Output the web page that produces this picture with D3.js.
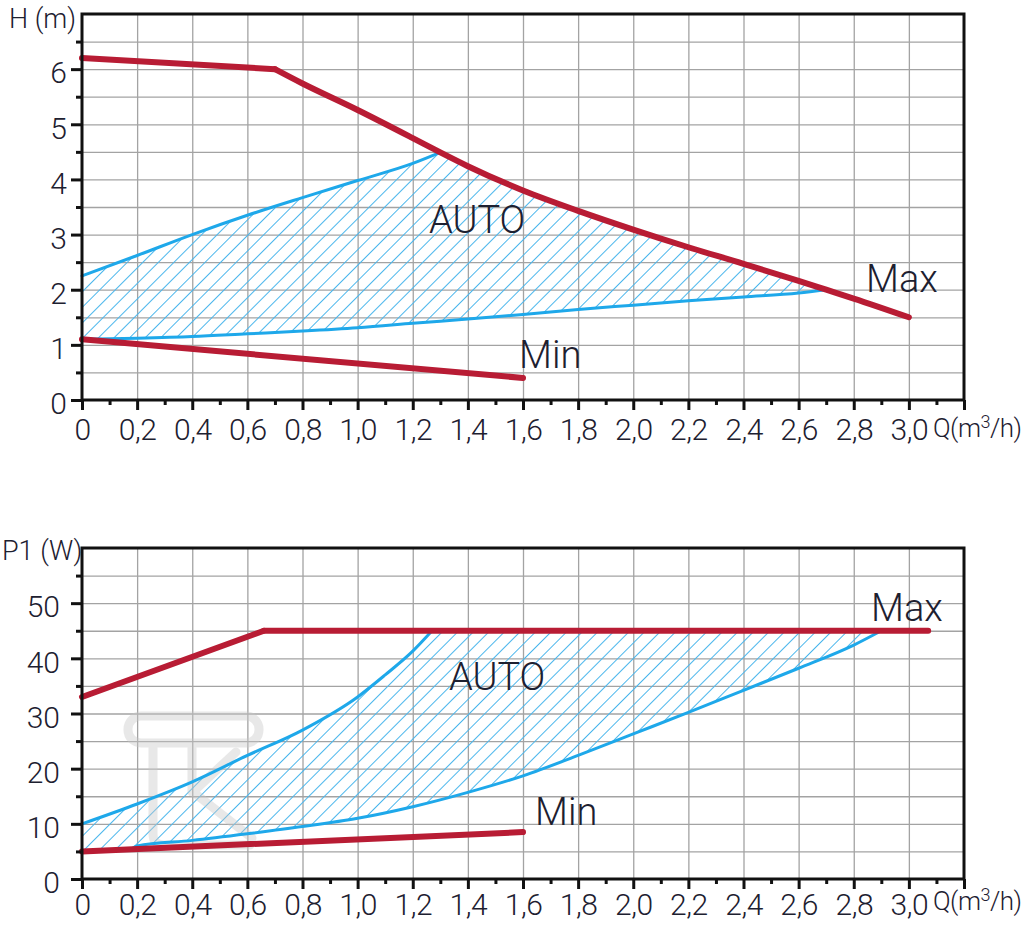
<!DOCTYPE html>
<html>
<head>
<meta charset="utf-8">
<script src="https://cdn.jsdelivr.net/npm/d3@7"></script>
<style>
  body { margin: 0; background: #fff; }
  text { font-family: Roboto, 'Open Sans', sans-serif; fill: #1d2030; }
</style>
</head>
<body>
<script>
// ---- data: pump curve, head H (m) vs flow Q (m3/h)
var hMaxQ = [0, 0.7, 0.8, 1.0, 1.2, 1.3, 1.4, 1.6, 1.8, 2.0, 2.2, 2.4, 2.6, 2.7, 2.8, 3.0];
var hMaxH = [6.2, 6.0, 5.74, 5.26, 4.75, 4.49, 4.24, 3.8, 3.43, 3.09, 2.77, 2.47, 2.16, 2.0, 1.84, 1.5];
var hAutoUpQ = [0, 0.2, 0.4, 0.6, 0.8, 1.0, 1.2, 1.3];
var hAutoUpH = [2.25, 2.62, 3.0, 3.35, 3.67, 3.98, 4.29, 4.49];
var hAutoLoQ = [0, 0.2, 0.4, 0.6, 0.8, 1.0, 1.2, 1.4, 1.6, 1.8, 2.0, 2.2, 2.4, 2.6, 2.7];
var hAutoLoH = [1.1, 1.12, 1.15, 1.2, 1.25, 1.31, 1.39, 1.47, 1.55, 1.64, 1.72, 1.8, 1.87, 1.94, 2.0];
var hMinQ = [0, 1.6];
var hMinH = [1.1, 0.4];

// ---- data: power P1 (W) vs flow Q (m3/h)
var pMaxQ = [0, 0.66, 1.27, 2.9, 3.07];
var pMaxP = [33, 45, 45, 45, 45];
var pAutoUpQ = [0, 0.2, 0.4, 0.6, 0.8, 1.0, 1.1, 1.2, 1.27];
var pAutoUpP = [10, 13.6, 17.6, 22.4, 27.0, 33.0, 37.0, 41.3, 45];
var pAutoLoQ = [0.18, 0.2, 0.4, 0.6, 0.8, 1.0, 1.2, 1.4, 1.6, 1.8, 2.0, 2.2, 2.4, 2.6, 2.8, 2.9];
var pAutoLoP = [5.5, 6.0, 7.0, 8.2, 9.5, 11.0, 13.1, 15.7, 18.7, 22.4, 26.3, 30.2, 34.2, 38.2, 42.4, 45];
var pMinQ = [0, 1.6];
var pMinP = [5, 8.5];

// ---- ticks
var qMajor = [0, 0.2, 0.4, 0.6, 0.8, 1.0, 1.2, 1.4, 1.6, 1.8, 2.0, 2.2, 2.4, 2.6, 2.8, 3.0, 3.2];
var qMinor = [0.1, 0.3, 0.5, 0.7, 0.9, 1.1, 1.3, 1.5, 1.7, 1.9, 2.1, 2.3, 2.5, 2.7, 2.9, 3.1];
var hMajor = [0, 1, 2, 3, 4, 5, 6];
var hMinor = [0.5, 1.5, 2.5, 3.5, 4.5, 5.5, 6.5];
var hGrid = [0.5, 1, 1.5, 2, 2.5, 3, 3.5, 4, 4.5, 5, 5.5, 6, 6.5];
var pMajor = [0, 10, 20, 30, 40, 50];
var pMinor = [5, 15, 25, 35, 45, 55];
var pGrid = [5, 10, 15, 20, 25, 30, 35, 40, 45, 50, 55];

var RED = '#b81c34';
var BLUE = '#1ea8ea';

var svg = d3.select('body').append('svg')
    .attr('width', 1024)
    .attr('height', 928);

var defs = svg.append('defs');
defs.append('pattern')
    .attr('id', 'hatch')
    .attr('patternUnits', 'userSpaceOnUse')
    .attr('width', 11)
    .attr('height', 11)
    .attr('patternTransform', 'rotate(-45)')
    .append('line')
    .attr('x1', 0).attr('y1', 0.5)
    .attr('x2', 11).attr('y2', 0.5)
    .attr('stroke', '#4ab6ec')
    .attr('stroke-width', 1);

var x = d3.scaleLinear().domain([0, 3.2]).range([82, 964]);

function qFmt(d) {
    if (d === 3.2) return '';
    if (d === 0) return '0';
    return d3.format('.1f')(d).replace('.', ',');
}

function pts(qs, vs) {
    return qs.map(function (q, i) { return [q, vs[i]]; });
}

function between(arr, a, b) {
    return arr.filter(function (d) { return d[0] >= a && d[0] <= b; });
}

function drawPanel(o) {
    var y = o.y;
    var g = svg.append('g');
    var top = y.range()[1], bottom = y.range()[0];

    // grid
    g.append('g')
        .attr('transform', 'translate(0,' + bottom + ')')
        .call(d3.axisBottom(x).tickValues(qMajor.slice(1, -1)).tickSize(-(bottom - top)).tickFormat(''))
        .call(function (s) { s.select('.domain').remove(); })
        .selectAll('line').attr('stroke', '#a3a3a3').attr('stroke-width', 1.3);
    g.append('g')
        .attr('transform', 'translate(82,0)')
        .call(d3.axisLeft(y).tickValues(o.grid).tickSize(-(964 - 82)).tickFormat(''))
        .call(function (s) { s.select('.domain').remove(); })
        .selectAll('line').attr('stroke', '#a3a3a3').attr('stroke-width', 1.3);

    var lin = d3.line()
        .x(function (d) { return x(d[0]); })
        .y(function (d) { return y(d[1]); });
    var smooth = d3.line()
        .x(function (d) { return x(d[0]); })
        .y(function (d) { return y(d[1]); })
        .curve(d3.curveMonotoneX);

    // hatched AUTO zone, built from the curve pieces
    var d = '';
    o.zone.forEach(function (piece, i) {
        var s = (piece.length > 2 ? smooth : lin)(piece);
        d += i === 0 ? s : 'L' + s.slice(1);
    });
    g.append('path')
        .attr('d', d + 'Z')
        .attr('fill', 'url(#hatch)')
        .attr('stroke', 'none');

    if (o.before) o.before(g);

    // curves
    o.blue.forEach(function (c) {
        g.append('path').attr('d', smooth(c))
            .attr('fill', 'none').attr('stroke', BLUE)
            .attr('stroke-width', 3).attr('stroke-linecap', 'round');
    });
    o.red.forEach(function (c) {
        g.append('path').attr('d', (c.length > 2 ? smooth : lin)(c))
            .attr('fill', 'none').attr('stroke', RED)
            .attr('stroke-width', 6).attr('stroke-linecap', 'round')
            .attr('stroke-linejoin', 'round');
    });

    // frame
    g.append('rect')
        .attr('x', 82).attr('y', top)
        .attr('width', 964 - 82).attr('height', bottom - top)
        .attr('fill', 'none').attr('stroke', '#111').attr('stroke-width', 3);

    // x axis ticks
    var xa = g.append('g')
        .attr('transform', 'translate(0,' + bottom + ')')
        .call(d3.axisBottom(x).tickValues(qMajor).tickSize(10).tickPadding(o.xPad).tickFormat(qFmt));
    xa.select('.domain').remove();
    xa.selectAll('line').attr('stroke', '#111').attr('stroke-width', 3);
    xa.selectAll('text').attr('font-size', 30).attr('font-weight', 300)
        .attr('font-family', 'Roboto').attr('fill', '#1d2030').attr('letter-spacing', -0.5);
    var xm = g.append('g')
        .attr('transform', 'translate(0,' + bottom + ')')
        .call(d3.axisBottom(x).tickValues(qMinor).tickSize(5).tickFormat(''));
    xm.select('.domain').remove();
    xm.selectAll('line').attr('stroke', '#111').attr('stroke-width', 3);

    // y axis ticks
    var ya = g.append('g')
        .attr('transform', 'translate(82,0)')
        .call(d3.axisLeft(y).tickValues(o.major).tickSize(11).tickPadding(o.yPad).tickFormat(d3.format('d')));
    ya.select('.domain').remove();
    ya.selectAll('line').attr('stroke', '#111').attr('stroke-width', 3);
    ya.selectAll('text').attr('font-size', 30).attr('font-weight', 300)
        .attr('font-family', 'Roboto').attr('fill', '#1d2030').attr('dy', '0.46em');
    var ym = g.append('g')
        .attr('transform', 'translate(82,0)')
        .call(d3.axisLeft(y).tickValues(o.minor).tickSize(6).tickFormat(''));
    ym.select('.domain').remove();
    ym.selectAll('line').attr('stroke', '#111').attr('stroke-width', 3);

    // axis titles
    g.append('text')
        .attr('x', o.titleX).attr('y', o.titleY)
        .attr('font-size', 27).attr('font-weight', 300)
        .text(o.title);
    var qt = g.append('text')
        .attr('x', 933).attr('y', bottom + o.qDy)
        .attr('font-size', 26).attr('font-weight', 300)
        .attr('letter-spacing', -0.5);
    qt.append('tspan').text('Q(m');
    qt.append('tspan').attr('dy', -9).attr('font-size', 18).text('3');
    qt.append('tspan').attr('dy', 9).text('/h)');

    // curve labels
    o.labels.forEach(function (l) {
        g.append('text')
            .attr('x', l[1]).attr('y', l[2])
            .attr('font-size', 38).attr('font-weight', 300)
            .text(l[0]);
    });
}

// ---- top panel: head
var yH = d3.scaleLinear().domain([0, 7]).range([400, 14]);
var hMax = pts(hMaxQ, hMaxH);
drawPanel({
    y: yH,
    grid: hGrid,
    major: hMajor,
    minor: hMinor,
    xPad: 9,
    yPad: 4,
    qDy: 37,
    title: 'H (m)',
    titleX: 9,
    titleY: 28,
    zone: [pts(hAutoUpQ, hAutoUpH), between(hMax, 1.3, 2.7), pts(hAutoLoQ, hAutoLoH).reverse()],
    blue: [pts(hAutoUpQ, hAutoUpH), pts(hAutoLoQ, hAutoLoH)],
    red: [between(hMax, 0, 0.7), between(hMax, 0.7, 3.0), pts(hMinQ, hMinH)],
    labels: [['AUTO', 429, 233], ['Max', 866, 292], ['Min', 519, 368]]
});

// ---- bottom panel: power
var yP = d3.scaleLinear().domain([0, 60]).range([879, 548]);
var pMax = pts(pMaxQ, pMaxP);
drawPanel({
    y: yP,
    grid: pGrid,
    major: pMajor,
    minor: pMinor,
    xPad: 5,
    yPad: 11,
    qDy: 31,
    title: 'P1 (W)',
    titleX: 2,
    titleY: 560,
    zone: [pts(pAutoUpQ, pAutoUpP), between(pMax, 1.27, 2.9), pts(pAutoLoQ, pAutoLoP).reverse(),
        [[pMinQ[0], pMinP[0]]]],
    blue: [pts(pAutoUpQ, pAutoUpP), pts(pAutoLoQ, pAutoLoP)],
    red: [between(pMax, 0, 0.66), between(pMax, 0.66, 3.07), pts(pMinQ, pMinP)],
    labels: [['AUTO', 449, 690], ['Max', 871, 621], ['Min', 535, 825]],
    before: function (g) {
        // faint watermark
        var wm = g.append('g').attr('opacity', 0.4)
            .attr('fill', 'none').attr('stroke', '#c8c8c8')
            .attr('stroke-width', 9).attr('stroke-linecap', 'round').attr('stroke-linejoin', 'round');
        wm.append('rect').attr('x', 128).attr('y', 716).attr('width', 131).attr('height', 27).attr('rx', 13);
        wm.append('path').attr('d', 'M153,745 V834 Q153,845 164,845 H250');
        wm.append('path').attr('d', 'M192,745 V792');
        wm.append('path').attr('d', 'M236,752 L193,792 L252,838');
    }
});
</script>
</body>
</html>
